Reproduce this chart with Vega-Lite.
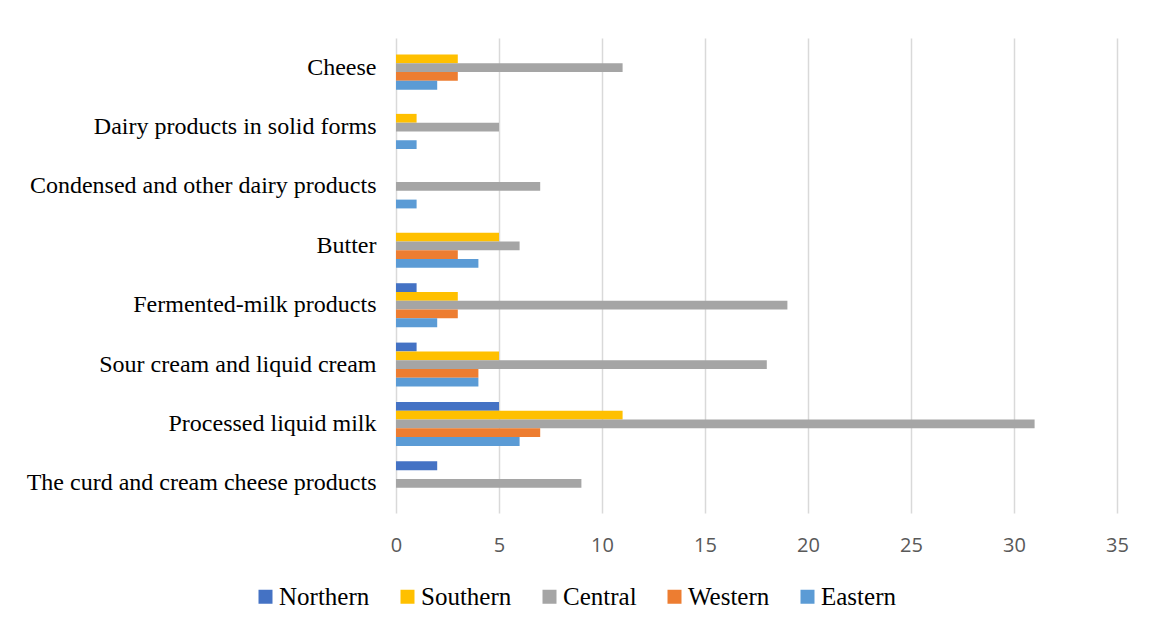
{
  "$schema": "https://vega.github.io/schema/vega-lite/v6.json",
  "autosize": "none",
  "width": 721,
  "height": 475,
  "padding": {"left": 396, "top": 38, "right": 38, "bottom": 118},
  "background": "white",
  "data": {
    "values": [
      {"category": "Cheese", "region": "Northern", "value": 0},
      {"category": "Cheese", "region": "Southern", "value": 3},
      {"category": "Cheese", "region": "Central", "value": 11},
      {"category": "Cheese", "region": "Western", "value": 3},
      {"category": "Cheese", "region": "Eastern", "value": 2},
      {"category": "Dairy products in solid forms", "region": "Northern", "value": 0},
      {"category": "Dairy products in solid forms", "region": "Southern", "value": 1},
      {"category": "Dairy products in solid forms", "region": "Central", "value": 5},
      {"category": "Dairy products in solid forms", "region": "Western", "value": 0},
      {"category": "Dairy products in solid forms", "region": "Eastern", "value": 1},
      {"category": "Condensed and other dairy products", "region": "Northern", "value": 0},
      {"category": "Condensed and other dairy products", "region": "Southern", "value": 0},
      {"category": "Condensed and other dairy products", "region": "Central", "value": 7},
      {"category": "Condensed and other dairy products", "region": "Western", "value": 0},
      {"category": "Condensed and other dairy products", "region": "Eastern", "value": 1},
      {"category": "Butter", "region": "Northern", "value": 0},
      {"category": "Butter", "region": "Southern", "value": 5},
      {"category": "Butter", "region": "Central", "value": 6},
      {"category": "Butter", "region": "Western", "value": 3},
      {"category": "Butter", "region": "Eastern", "value": 4},
      {"category": "Fermented-milk products", "region": "Northern", "value": 1},
      {"category": "Fermented-milk products", "region": "Southern", "value": 3},
      {"category": "Fermented-milk products", "region": "Central", "value": 19},
      {"category": "Fermented-milk products", "region": "Western", "value": 3},
      {"category": "Fermented-milk products", "region": "Eastern", "value": 2},
      {"category": "Sour cream and liquid cream", "region": "Northern", "value": 1},
      {"category": "Sour cream and liquid cream", "region": "Southern", "value": 5},
      {"category": "Sour cream and liquid cream", "region": "Central", "value": 18},
      {"category": "Sour cream and liquid cream", "region": "Western", "value": 4},
      {"category": "Sour cream and liquid cream", "region": "Eastern", "value": 4},
      {"category": "Processed liquid milk", "region": "Northern", "value": 5},
      {"category": "Processed liquid milk", "region": "Southern", "value": 11},
      {"category": "Processed liquid milk", "region": "Central", "value": 31},
      {"category": "Processed liquid milk", "region": "Western", "value": 7},
      {"category": "Processed liquid milk", "region": "Eastern", "value": 6},
      {"category": "The curd and cream cheese products", "region": "Northern", "value": 2},
      {"category": "The curd and cream cheese products", "region": "Southern", "value": 0},
      {"category": "The curd and cream cheese products", "region": "Central", "value": 9},
      {"category": "The curd and cream cheese products", "region": "Western", "value": 0},
      {"category": "The curd and cream cheese products", "region": "Eastern", "value": 0}
    ]
  },
  "mark": {"type": "bar"},
  "encoding": {
    "y": {
      "field": "category",
      "type": "nominal",
      "sort": null,
      "scale": {"paddingInner": 0.26, "paddingOuter": 0.13},
      "axis": {
        "title": null,
        "domain": false,
        "ticks": false,
        "tickSize": 0,
        "labelPadding": 20,
        "labelFont": "Liberation Serif",
        "labelFontSize": 24,
        "labelColor": "#000000",
        "labelLimit": 400
      }
    },
    "yOffset": {
      "field": "region",
      "type": "nominal",
      "sort": ["Northern", "Southern", "Central", "Western", "Eastern"],
      "scale": {"paddingInner": 0, "paddingOuter": 0}
    },
    "x": {
      "field": "value",
      "type": "quantitative",
      "scale": {"domain": [0, 35], "nice": false},
      "axis": {
        "title": null,
        "values": [0, 5, 10, 15, 20, 25, 30, 35],
        "domain": false,
        "ticks": false,
        "tickSize": 0,
        "grid": true,
        "gridColor": "#d9d9d9",
        "gridWidth": 1.5,
        "labelFlush": false,
        "labelPadding": 22,
        "labelFont": "Open Sans",
        "labelFontSize": 20,
        "labelColor": "#595959"
      }
    },
    "color": {
      "field": "region",
      "type": "nominal",
      "sort": ["Northern", "Southern", "Central", "Western", "Eastern"],
      "scale": {
        "domain": ["Northern", "Southern", "Central", "Western", "Eastern"],
        "range": ["#4472C4", "#FFC000", "#A5A5A5", "#ED7D31", "#5B9BD5"]
      },
      "legend": {
        "title": null,
        "orient": "none",
        "direction": "horizontal",
        "legendX": -143,
        "legendY": 546,
        "symbolType": "square",
        "symbolSize": 196,
        "symbolStrokeWidth": 0,
        "labelFont": "Liberation Serif",
        "labelFontSize": 25,
        "labelColor": "#000000",
        "labelOffset": 1,
        "columnPadding": 25
      }
    }
  },
  "config": {
    "view": {"stroke": null}
  }
}
